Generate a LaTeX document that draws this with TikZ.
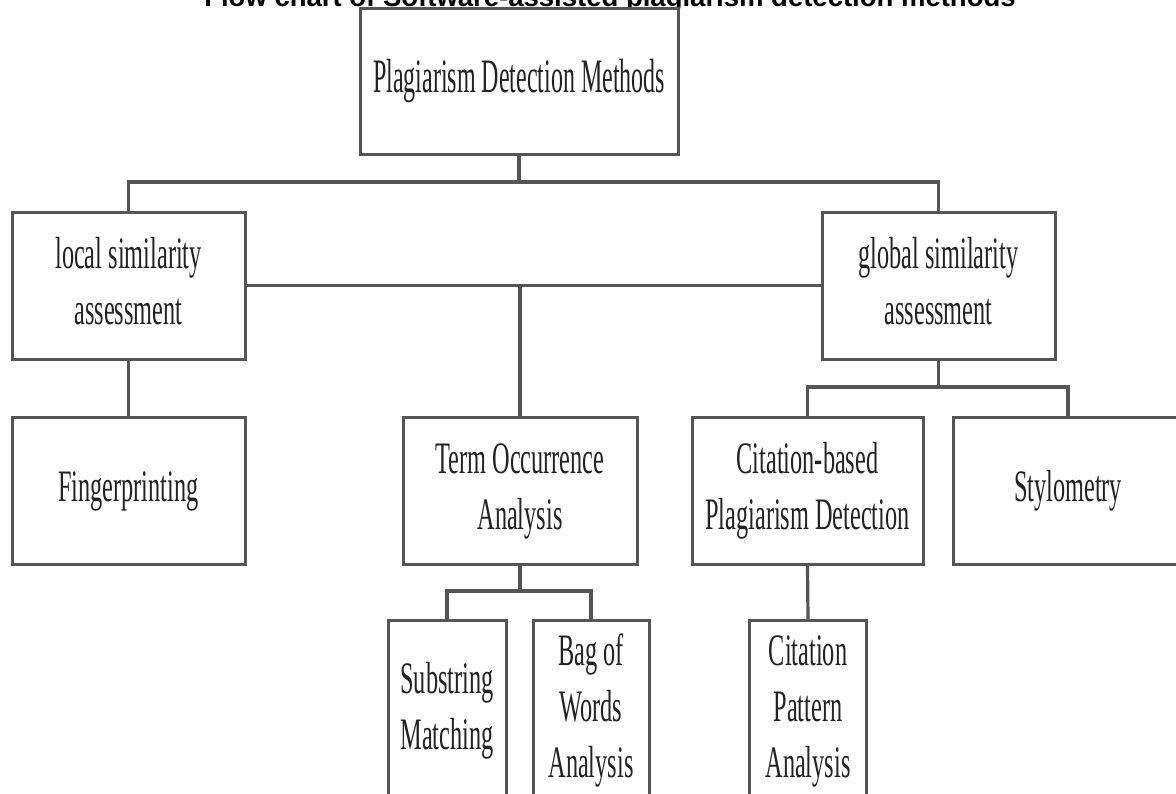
\documentclass[tikz,border=0pt]{standalone}
\usepackage{fontspec}
\setmainfont{Liberation Serif}
\newfontfamily\titlefont{Liberation Sans}
\definecolor{linecol}{HTML}{555555}
\definecolor{textcol}{HTML}{222222}
\newcommand\sqz[2][0.54]{\scalebox{#1}[1]{\begin{tabular}{@{}c@{}}#2\end{tabular}}}
\begin{document}
\begin{tikzpicture}[x=1pt,y=-1pt,
  box/.style={draw=linecol, line width=3pt, rectangle, fill=white, inner sep=0pt,
    text=textcol, font=\fontsize{45}{56}\selectfont},
  conn/.style={draw=linecol, line width=3.2pt, line cap=rect, line join=miter}]
\useasboundingbox (0,0) rectangle (1176,793);
\fill[white] (0,0) rectangle (1176,793);
\clip (0,0) rectangle (1176,793);

\node[anchor=base, font=\titlefont\bfseries\fontsize{27.5}{33}\selectfont] (title) at (610,6) {Flow chart of Software-assisted plagiarism detection methods};

\node[box, minimum width=318pt, minimum height=146pt, font=\fontsize{48}{58}\selectfont] (top) at (519,81) {\sqz[0.5]{Plagiarism Detection Methods}};
\node[box, minimum width=233pt, minimum height=147pt] (local) at (128.5,285.5) {\sqz{local similarity\\assessment}};
\node[box, minimum width=233pt, minimum height=147pt] (global) at (938.5,285.5) {\sqz{global similarity\\assessment}};
\node[box, minimum width=233pt, minimum height=147pt] (finger) at (128.5,490.5) {\sqz{Fingerprinting}};
\node[box, minimum width=234pt, minimum height=147pt] (term) at (520,490.5) {\sqz{Term Occurrence\\Analysis}};
\node[box, minimum width=231pt, minimum height=147pt] (citeb) at (807.5,490.5) {\sqz{Citation-based\\Plagiarism Detection}};
\node[box, minimum width=230pt, minimum height=147pt] (stylo) at (1068,490.5) {\sqz{Stylometry}};
\node[box, minimum width=118pt, minimum height=180pt] (sub) at (447,710) {\sqz{Substring\\Matching}};
\node[box, minimum width=116pt, minimum height=180pt] (bag) at (591,710) {\sqz{Bag of\\Words\\Analysis}};
\node[box, minimum width=117pt, minimum height=180pt] (citep) at (808,710) {\sqz{Citation\\Pattern\\Analysis}};

\coordinate (bus1) at (519,182);
\coordinate (bus2) at (938.5,387);
\coordinate (bus3) at (520,591);

\draw[conn] (top.south) -- (bus1);
\draw[conn] (local.north) |- (bus1) -| (global.north);
\draw[conn] (local.east) -- (global.west);
\draw[conn] (term.north) -- (term.north |- local.east);
\draw[conn] (local.south) -- (finger.north);
\draw[conn] (global.south) -- (bus2);
\draw[conn] (citeb.north) |- (bus2) -| (stylo.north);
\draw[conn] (term.south) -- (bus3);
\draw[conn] (sub.north) |- (bus3) -| (bag.north);
\draw[conn] (citeb.south) -- (citep.north);
\end{tikzpicture}
\end{document}
